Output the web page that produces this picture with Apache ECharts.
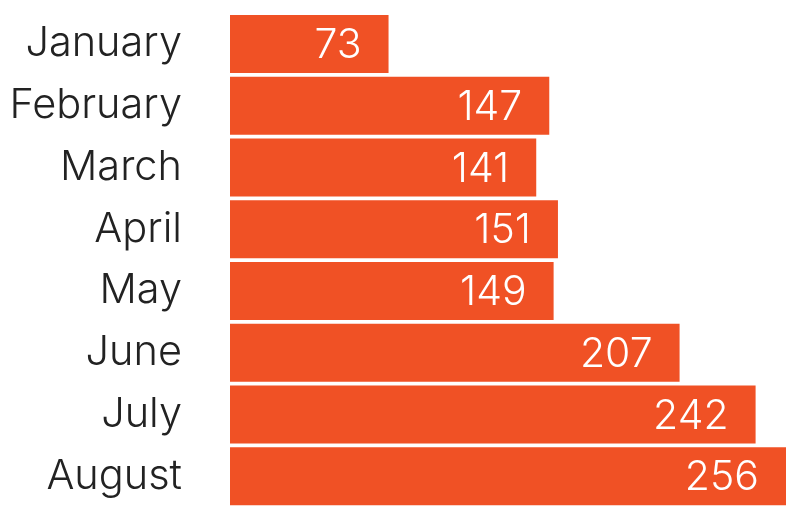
<!DOCTYPE html>
<html>
<head>
<meta charset="utf-8">
<script src="https://cdn.jsdelivr.net/npm/echarts@6/dist/echarts.min.js"></script>
<style>html,body{margin:0;padding:0;background:#fff;}#c{width:800px;height:519px;}</style>
</head>
<body>
<div id="c"></div>
<script>
const categories = ["January","February","March","April","May","June","July","August"];
const values = [73,147,141,151,149,207,242,256];

const chart = echarts.init(document.getElementById('c'));
chart.setOption({
  animation: false,
  grid: {left: 230, right: 14, top: 13, bottom: 12, containLabel: false},
  xAxis: {type: 'value', min: 0, max: 256, show: false},
  yAxis: {
    type: 'category', data: categories, inverse: true,
    axisLine: {show: false}, axisTick: {show: false}, splitLine: {show: false},
    axisLabel: {fontFamily: 'Inter', fontWeight: 350, fontSize: 41.5, color: '#222', margin: 48, padding: [4, 0, 0, 0]}
  },
  series: [{
    type: 'bar', data: values, barWidth: 58,
    itemStyle: {color: '#F05125'},
    label: {show: true, position: 'insideRight', distance: 27, offset: [0, 2], color: '#fff', fontFamily: 'Inter', fontWeight: 350, fontSize: 41}
  }]
});
</script>
</body>
</html>
